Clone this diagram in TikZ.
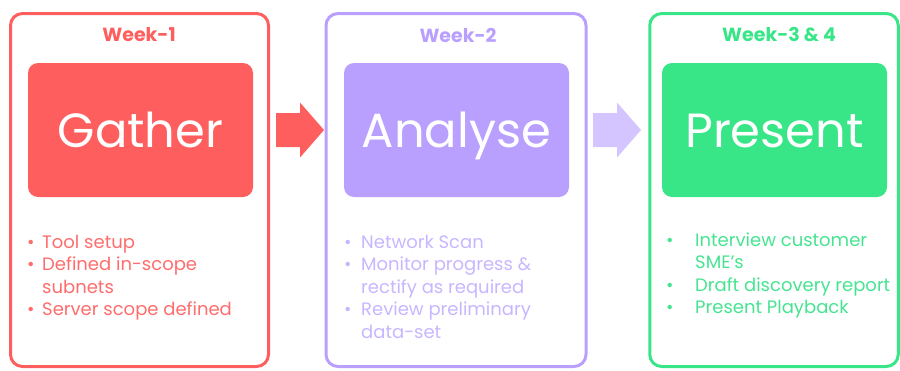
\documentclass[tikz,border=0pt]{standalone}
\usepackage{fontspec}
\setmainfont{Poppins}

\definecolor{wk1}{RGB}{255,94,94}
\definecolor{wk2}{RGB}{185,160,255}
\definecolor{wk3}{RGB}{56,230,136}
\definecolor{wk1t}{RGB}{255,108,108}
\definecolor{wk2t}{RGB}{200,182,255}
\definecolor{wk3t}{RGB}{70,228,145}
\definecolor{wk2a}{RGB}{212,196,255}

\newcommand{\bul}[1]{\makebox[#1][l]{\textbullet}}

\begin{document}
\begin{tikzpicture}[x=1pt,y=-1pt,
    phase/.style={draw,line width=3pt,rounded corners=12pt,minimum height=353pt,inner sep=0pt},
    stage/.style={rounded corners=10pt,minimum width=225pt,minimum height=134pt,inner sep=0pt,
      text=white,text height=35pt,text depth=0pt,font=\fontsize{48}{58}\selectfont},
    week/.style={font=\bfseries\fontsize{19}{23}\selectfont},
    notes/.style={anchor=base west,inner sep=0pt,font=\fontsize{18}{22.5}\selectfont}]
      \useasboundingbox (0,0) rectangle (900,370);

      % week boxes
      \node[phase,draw=wk1,minimum width=258pt] (box1) at (139.5,190) {};
      \node[phase,draw=wk2,minimum width=260pt] (box2) at (456,190) {};
      \node[phase,draw=wk3,minimum width=248.5pt] (box3) at (774,190) {};

      \node[week,text=wk1] (wk1) at (139,35) {Week-1};
      \node[week,text=wk2] (wk2) at (458,35) {Week-2};
      \node[week,text=wk3] (wk3) at (779,35) {Week-3 \& 4};

      \node[stage,fill=wk1] (gather) at (140.5,130) {Gather};
      \node[stage,fill=wk2] (analyse) at (456.5,130) {Analyse};
      \node[stage,fill=wk3] (present) at (774.5,130) {Present};

      % block arrows
      \coordinate (a1) at (276,130);
      \coordinate (a2) at (593,130);
      \fill[wk1] (a1) ++(0,-17) -- ++(24,0) -- ++(0,-10.5) -- ++(24,27.5)
            -- ++(-24,27.5) -- ++(0,-10.5) -- ++(-24,0) -- cycle;
      \fill[wk2a] (a2) ++(0,-17) -- ++(24,0) -- ++(0,-10.5) -- ++(24,27.5)
            -- ++(-24,27.5) -- ++(0,-10.5) -- ++(-24,0) -- cycle;

      % task lists
      \node[notes,text=wk1t] (tasks1) at (27,248) {\begin{tabular}[t]{@{}l@{}l@{}}
        \bul{15pt} & Tool setup\\
        \bul{15pt} & Defined in-scope\\
                   & subnets\\
        \bul{15pt} & Server scope defined
      \end{tabular}};
      \node[notes,text=wk2t] (tasks2) at (344,248) {\begin{tabular}[t]{@{}l@{}l@{}}
        \bul{17pt} & Network Scan\\
        \bul{17pt} & Monitor progress \&\\
                   & rectify as required\\
        \bul{17pt} & Review preliminary\\
                   & data-set
      \end{tabular}};
      \node[notes,text=wk3t] (tasks3) at (666,246) {\begin{tabular}[t]{@{}l@{}l@{}}
        \bul{29pt} & Interview customer\\
                   & SME’s\\
        \bul{29pt} & Draft discovery report\\
        \bul{29pt} & Present Playback
      \end{tabular}};
    \end{tikzpicture}
\end{document}
